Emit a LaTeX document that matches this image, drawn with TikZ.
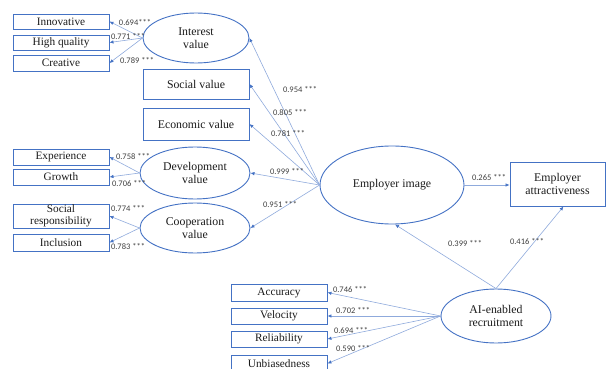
\documentclass[tikz,border=0pt]{standalone}
\usepackage{fontspec}
\setmainfont{Liberation Serif}
\newfontfamily\lblfont{Carlito}
\usetikzlibrary{arrows.meta,shapes.geometric,calc}
\definecolor{boxblue}{HTML}{4472C4}
\definecolor{lineblue}{HTML}{8FAADC}
\definecolor{txt}{HTML}{1A1A1A}
\definecolor{lbl}{HTML}{404040}
\begin{document}
\begin{tikzpicture}[x=1pt,y=-1pt,
  ind/.style={draw=boxblue,line width=0.9pt,rectangle,minimum width=96pt,inner sep=0pt,font=\fontsize{11.3}{11}\selectfont,text=txt},
  cbox/.style={draw=boxblue,line width=0.9pt,rectangle,minimum width=106pt,inner sep=0pt,font=\fontsize{11.8}{13}\selectfont,text=txt},
  lat/.style={draw=boxblue,line width=0.9pt,ellipse,inner sep=0pt,font=\fontsize{11.8}{13}\selectfont,text=txt,align=center},
  path/.style={draw=lineblue,line width=0.6pt,-{Latex[length=4pt,width=3.5pt,color=boxblue]}},
  coef/.style={font=\lblfont\fontsize{8.5}{8.5}\selectfont,text=lbl,inner sep=0pt}]
\clip (0,0) rectangle (606,369);
% indicators of interest value
\node[ind,minimum height=15pt] (inn) at (61,21.5) {Innovative};
\node[ind,minimum height=15pt] (hq) at (61,42.5) {High quality};
\node[ind,minimum height=16pt] (cre) at (61,63) {Creative};
\node[lat,minimum width=106pt,minimum height=50pt] (iv) at (196,38) {Interest\\value};
% single boxes
\node[cbox,minimum height=30pt] (sv) at (196,84) {Social value};
\node[cbox,minimum height=32pt] (ev) at (196,124) {Economic value};
% development value
\node[ind,minimum height=16pt] (exp) at (61,157) {Experience};
\node[ind,minimum height=16pt] (gro) at (61,177) {Growth};
\node[lat,minimum width=110pt,minimum height=52pt] (dv) at (195,173) {Development\\value};
% cooperation value
\node[ind,minimum height=24pt,align=center,font=\fontsize{11.3}{12}\selectfont] (sr) at (61,216) {Social\\responsibility};
\node[ind,minimum height=17pt] (incl) at (61,242.5) {Inclusion};
\node[lat,minimum width=110pt,minimum height=50pt] (cv) at (195,228) {Cooperation\\value};
% main constructs
\node[lat,minimum width=144pt,minimum height=78pt] (ei) at (392,185) {Employer image};
\node[draw=boxblue,line width=0.9pt,rectangle,minimum width=95pt,minimum height=44pt,inner sep=0pt,align=center,font=\fontsize{11.8}{13}\selectfont,text=txt] (ea) at (557.5,184) {Employer\\attractiveness};
\node[lat,minimum width=110pt,minimum height=54pt] (ai) at (496,316) {AI-enabled\\recruitment};
% AI indicators
\node[ind,minimum height=17pt] (acc) at (279,292.5) {Accuracy};
\node[ind,minimum height=16pt] (vel) at (279,316) {Velocity};
\node[ind,minimum height=16pt] (rel) at (279,339) {Reliability};
\node[ind,minimum height=17pt] (unb) at (279,363.5) {Unbiasedness};
% connectors
\draw[path] (iv.west) -- (inn.east);
\draw[path] (iv.west) -- (hq.east);
\draw[path] (iv.west) -- (cre.east);
\draw[path] (dv.west) -- (exp.east);
\draw[path] (dv.west) -- (gro.east);
\draw[path] (cv.west) -- (sr.east);
\draw[path] (cv.west) -- (incl.east);
\draw[path] (ei.west) -- (iv.east);
\draw[path] (ei.west) -- (sv.east);
\draw[path] (ei.west) -- (ev.east);
\draw[path] (ei.west) -- (dv.east);
\draw[path] (ei.west) -- (cv.east);
\draw[path] (ei.east) -- (ea.west |- ei.east);
\draw[path] (ai.north) -- ([xshift=3pt]ei.south);
\draw[path] (ai.north) -- ([xshift=6pt]ea.south);
\draw[path] (ai.west) -- (acc.east);
\draw[path] (ai.west) -- (vel.east);
\draw[path] (ai.west) -- (rel.east);
\draw[path] (ai.west) -- (unb.east);
% coefficients
\node[coef] (c1) at (135,23) {0.694***};
\node[coef] (c2) at (128,37) {0.771 ***};
\node[coef] (c3) at (137,61) {0.789 ***};
\node[coef] (c4) at (300,90) {0.954 ***};
\node[coef] (c5) at (290,113) {0.805 ***};
\node[coef] (c6) at (288,134) {0.781 ***};
\node[coef] (c7) at (287,172) {0.999 ***};
\node[coef] (c8) at (280,205) {0.951 ***};
\node[coef] (c9) at (133,157) {0.758 ***};
\node[coef] (c10) at (129,184) {0.706 ***};
\node[coef] (c11) at (128,209) {0.774 ***};
\node[coef] (c12) at (128,247) {0.783 ***};
\node[coef] (c13) at (489,178) {0.265 ***};
\node[coef] (c14) at (465,244) {0.399 ***};
\node[coef] (c15) at (527,242) {0.416 ***};
\node[coef] (c16) at (350,290) {0.746 ***};
\node[coef] (c17) at (353,311) {0.702 ***};
\node[coef] (c18) at (351,331) {0.694 ***};
\node[coef] (c19) at (353,349) {0.590 ***};
\end{tikzpicture}
\end{document}
